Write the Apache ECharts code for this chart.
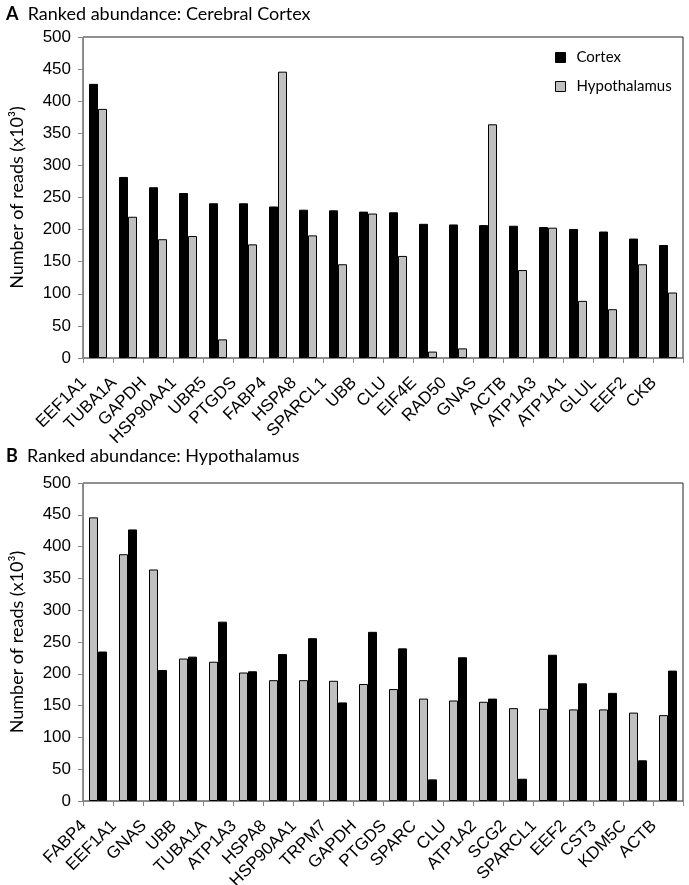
<!DOCTYPE html>
<html>
<head>
<meta charset="utf-8">
<script src="https://cdn.jsdelivr.net/npm/echarts@6/dist/echarts.min.js"></script>
<style>
html,body{margin:0;padding:0;background:#fff;}
#chart{width:689px;height:885px;}
</style>
</head>
<body>
<div id="chart"></div>
<script>
// ---- data ----
var topGenes = ['EEF1A1','TUBA1A','GAPDH','HSP90AA1','UBR5','PTGDS','FABP4','HSPA8','SPARCL1','UBB','CLU','EIF4E','RAD50','GNAS','ACTB','ATP1A3','ATP1A1','GLUL','EEF2','CKB'];
var topCortex = [427,282,266,257,241,241,236,231,230,228,227,209,208,207,206,204,201,197,186,176];
var topHypo   = [388,220,185,190,29,177,446,191,146,225,159,10,15,364,137,203,89,76,146,102];

var bottomGenes = ['FABP4','EEF1A1','GNAS','UBB','TUBA1A','ATP1A3','HSPA8','HSP90AA1','TRPM7','GAPDH','PTGDS','SPARC','CLU','ATP1A2','SCG2','SPARCL1','EEF2','CST3','KDM5C','ACTB'];
var bottomHypo   = [446,388,364,224,219,202,190,190,189,184,176,161,158,156,146,145,144,144,139,135];
var bottomCortex = [235,427,206,227,282,204,231,256,155,266,240,34,226,161,35,230,185,170,64,205];

var yTicks = {min:0, max:500, interval:50};
var titleA = 'Ranked abundance: Cerebral Cortex';
var titleB = 'Ranked abundance: Hypothalamus';
var yName = 'Number of reads (x10\u00B3)';

// ---- styles ----
var axisGray = '#868686';
var black = '#000000';
var gray = '#c0c0c0';
var sansTitle = 'Lato';
var sansAxis = 'Liberation Sans';

function yAxis(gi){
  return {
    type:'value', gridIndex:gi, min:yTicks.min, max:yTicks.max, interval:yTicks.interval,
    name:yName, nameLocation:'middle', nameGap:57, nameRotate:90,
    nameTextStyle:{fontFamily:sansTitle, fontSize:18, color:'#000'},
    axisLine:{show:true, lineStyle:{color:axisGray, width:1}},
    axisTick:{show:true, length:5, lineStyle:{color:axisGray}},
    splitLine:{show:false},
    axisLabel:{fontFamily:sansAxis, fontSize:17, color:'#000', margin:12, padding:[6,0,0,0]}
  };
}
function xAxis(gi, cats){
  return {
    type:'category', gridIndex:gi, data:cats,
    axisLine:{show:true, lineStyle:{color:axisGray, width:1}},
    axisTick:{show:true, length:5, alignWithLabel:false, lineStyle:{color:axisGray}},
    axisLabel:{interval:0, rotate:45, fontFamily:sansAxis, fontSize:17, color:'#000', margin:8, padding:[10,20,0,0]}
  };
}
function bar(name, gi, data, color){
  return {
    type:'bar', name:name, xAxisIndex:gi, yAxisIndex:gi, data:data,
    barWidth:9, barGap:'0%',
    itemStyle:{color:color, borderColor:'#000', borderWidth:1},
    emphasis:{disabled:true}, animation:false
  };
}

var chart = echarts.init(document.getElementById('chart'), null, {renderer:'canvas'});
chart.setOption({
  backgroundColor:'#fff',
  animation:false,
  title:[
    {text:'{b|A}  ' + titleA, left:1, top:0,
     textStyle:{fontFamily:sansTitle, fontSize:18, fontWeight:'normal', color:'#000',
       rich:{b:{fontFamily:sansTitle, fontSize:18, fontWeight:'bold', color:'#000'}}}},
    {text:'{b|B}  ' + titleB, left:1, top:442,
     textStyle:{fontFamily:sansTitle, fontSize:18, fontWeight:'normal', color:'#000',
       rich:{b:{fontFamily:sansTitle, fontSize:18, fontWeight:'bold', color:'#000'}}}}
  ],
  legend:{
    data:['Cortex','Hypothalamus'], orient:'vertical', left:550, top:45,
    itemWidth:10, itemHeight:10, itemGap:14, icon:'rect',
    textStyle:{fontFamily:sansTitle, fontSize:15, color:'#000', padding:[0,0,0,6]},
    itemStyle:{borderColor:'#000', borderWidth:1}
  },
  grid:[
    {left:83, right:6, top:37, height:321, show:true, borderColor:'#222', borderWidth:1, containLabel:false, outerBoundsMode:'none'},
    {left:83, right:6, top:483, height:318, show:true, borderColor:'#222', borderWidth:1, containLabel:false, outerBoundsMode:'none'}
  ],
  xAxis:[xAxis(0, topGenes), xAxis(1, bottomGenes)],
  yAxis:[yAxis(0), yAxis(1)],
  series:[
    bar('Cortex', 0, topCortex, black),
    bar('Hypothalamus', 0, topHypo, gray),
    bar('Hypothalamus', 1, bottomHypo, gray),
    bar('Cortex', 1, bottomCortex, black)
  ]
});
</script>
</body>
</html>
